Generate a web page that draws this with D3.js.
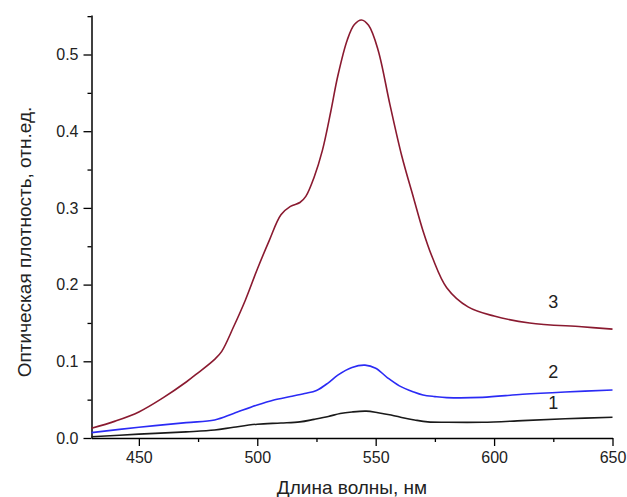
<!DOCTYPE html>
<html>
<head>
<meta charset="utf-8">
<script src="https://cdn.jsdelivr.net/npm/d3@7"></script>
<style>
  body { margin: 0; background: #fff; }
  text { font-family: "Liberation Sans", Arial, sans-serif; }
</style>
</head>
<body>
<svg id="chart" width="627" height="497"></svg>
<script>
// spectra
var wl1 = [430, 450, 470, 482, 490, 500, 510, 518, 524, 530, 535, 540, 546, 551, 556.5, 562, 566.4, 572, 580, 595, 612, 630, 650];
var abs1 = [0.0017, 0.005, 0.008, 0.0104, 0.014, 0.018, 0.0195, 0.021, 0.0243, 0.028, 0.032, 0.034, 0.035, 0.033, 0.030, 0.026, 0.0235, 0.021, 0.0205, 0.0205, 0.0226, 0.025, 0.027];

var wl2 = [430, 450, 470, 482, 490, 500, 507, 514, 520, 525, 530, 534, 540, 545.5, 550, 555, 560, 566, 570, 575, 580, 595, 612, 630, 650];
var abs2 = [0.007, 0.014, 0.020, 0.0235, 0.032, 0.043, 0.0495, 0.054, 0.058, 0.062, 0.072, 0.082, 0.092, 0.095, 0.091, 0.0785, 0.068, 0.060, 0.056, 0.054, 0.0527, 0.053, 0.057, 0.060, 0.0626];

var wl3 = [430, 440, 450, 460, 470, 475, 482, 485, 490, 495, 500, 505, 510, 514, 518, 520.5, 524, 527.5, 531, 534, 538, 541, 544, 547, 551, 556, 561, 566, 570, 574, 580, 589, 600, 615, 637, 650];
var abs3 = [0.0126, 0.022, 0.034, 0.052, 0.073, 0.085, 0.1026, 0.113, 0.145, 0.180, 0.220, 0.257, 0.291, 0.302, 0.307, 0.315, 0.340, 0.375, 0.425, 0.472, 0.519, 0.539, 0.545, 0.538, 0.506, 0.435, 0.368, 0.313, 0.270, 0.235, 0.196, 0.171, 0.159, 0.150, 0.145, 0.142];

var curveNames = ["1", "2", "3"];
var xTicks = [450, 500, 550, 600, 650];
var yTicks = [0.0, 0.1, 0.2, 0.3, 0.4, 0.5];

var svg = d3.select("#chart"),
    margin = {top: 15, right: 15, bottom: 59, left: 91.5},
    width = 612.5 - margin.left,
    height = 438 - margin.top;

var x = d3.scaleLinear().domain([430, 650]).range([0, width]);
var y = d3.scaleLinear().domain([0, 0.5515]).range([height, 0]);

var g = svg.append("g")
    .attr("transform", "translate(" + margin.left + "," + margin.top + ")");

// minor ticks first, then major
g.append("g")
    .attr("transform", "translate(0," + height + ")")
    .call(d3.axisBottom(x).tickValues([475, 525, 575, 625]).tickSize(4).tickFormat(""))
    .call(function(a) { a.select(".domain").remove(); });
g.append("g")
    .call(d3.axisLeft(y).tickValues([0.05, 0.15, 0.25, 0.35, 0.45, 0.55]).tickSize(4).tickFormat(""))
    .call(function(a) { a.select(".domain").remove(); });

var xAxis = g.append("g")
    .attr("transform", "translate(0," + height + ")")
    .call(d3.axisBottom(x).tickValues(xTicks).tickSize(8).tickSizeOuter(0).tickPadding(6).tickFormat(d3.format("d")));
var yAxis = g.append("g")
    .call(d3.axisLeft(y).tickValues(yTicks).tickSize(8).tickSizeOuter(0).tickPadding(5).tickFormat(d3.format(".1f")));

svg.selectAll(".tick line").attr("stroke", "#000").attr("stroke-width", 1.3);
svg.selectAll(".domain").attr("stroke", "#000").attr("stroke-width", 1.5);
svg.selectAll(".tick text")
    .attr("font-size", 16)
    .attr("fill", "#222")
    .style("font-family", "'Liberation Sans', Arial, sans-serif");

var line = d3.line()
    .x(function(d) { return x(d[0]); })
    .y(function(d) { return y(d[1]); })
    .curve(d3.curveCatmullRom.alpha(0.5));

var series = [
    {name: curveNames[0], data: d3.zip(wl1, abs1), color: "#1a1a1a"},
    {name: curveNames[1], data: d3.zip(wl2, abs2), color: "#2b2bf5"},
    {name: curveNames[2], data: d3.zip(wl3, abs3), color: "#8a1a30"}
];

g.selectAll(".curve")
    .data(series)
    .enter().append("path")
    .attr("class", "curve")
    .attr("fill", "none")
    .attr("stroke", function(d) { return d.color; })
    .attr("stroke-width", 1.6)
    .attr("d", function(d) { return line(d.data); });

// curve numbers
var labelPos = {"1": [625, 0.038], "2": [625, 0.078], "3": [625, 0.169]};
g.selectAll(".num")
    .data(curveNames)
    .enter().append("text")
    .attr("class", "num")
    .attr("x", function(d) { return x(labelPos[d][0]); })
    .attr("y", function(d) { return y(labelPos[d][1]); })
    .attr("text-anchor", "middle")
    .attr("font-size", 18)
    .attr("fill", "#222")
    .text(function(d) { return d; });

svg.append("text")
    .attr("x", 352)
    .attr("y", 494)
    .attr("text-anchor", "middle")
    .attr("font-size", 19)
    .attr("fill", "#222")
    .text("Длина волны, нм");

svg.append("text")
    .attr("transform", "translate(31,242) rotate(-90)")
    .attr("text-anchor", "middle")
    .attr("font-size", 19)
    .attr("fill", "#222")
    .text("Оптическая плотность, отн.ед.");
</script>
</body>
</html>
